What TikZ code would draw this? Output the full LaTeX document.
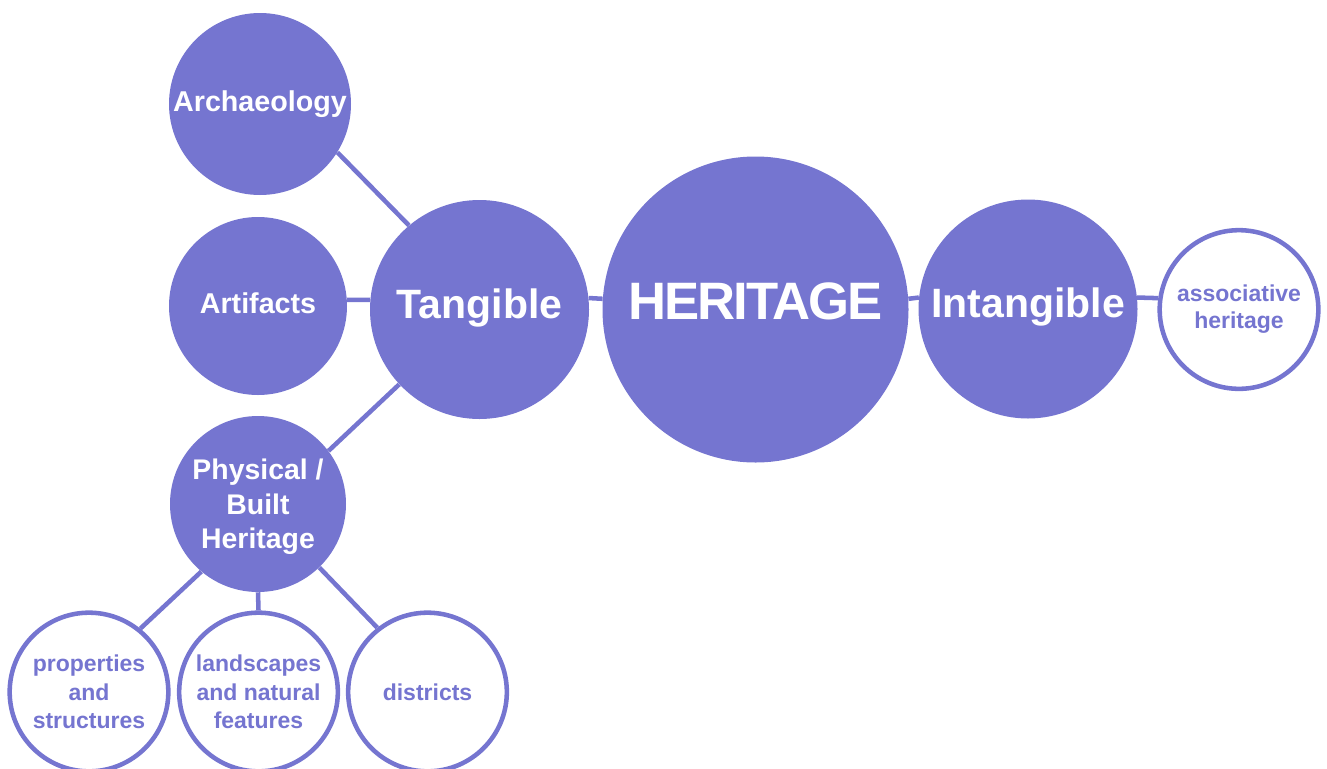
\documentclass[tikz,border=0pt]{standalone}
\usepackage{fontspec}
\setmainfont{Liberation Sans}

\definecolor{lavender}{RGB}{117,117,208}
\newcommand{\fs}[2]{\fontsize{#1}{#2}\selectfont\bfseries}

\tikzset{
	ball/.style={circle, fill=lavender, inner sep=0pt, text=white, align=center},
	ring/.style={circle, draw=lavender, line width=3.4pt, fill=white, inner sep=0pt, text=lavender, align=center},
	link/.style={draw=lavender, line width=3.4pt}
}

\begin{document}
\begin{tikzpicture}[x=0.75pt, y=-0.75pt]
	
	% 1. Khung vẽ
	\useasboundingbox (0,0) rectangle (1327,768);
	
	% 2. Vòng tròn trung tâm và hai nhánh chính
	\node[ball, minimum size=229.5pt, text depth=12pt,
	font=\fs{39.5}{40}\addfontfeatures{LetterSpace=-4}] (her) at (755.5,309.5) {HERITAGE};
	\node[ball, minimum size=164.25pt, text depth=9pt, font=\fs{30.75}{31}] (tang) at (479.5,309.5) {Tangible};
	\node[ball, minimum size=164.25pt, text depth=9pt, font=\fs{30.75}{31}] (intang) at (1028,309) {Intangible};
	\node[ring, minimum size=119pt, font=\fs{17.25}{20.25}] (assoc) at (1239,309.5) {associative\\heritage};
	
	% 3. Các nhánh của Tangible
	\node[ball, minimum size=136.5pt, text depth=5pt, font=\fs{21.5}{26}] (arch) at (260,104) {Archaeology};
	\node[ball, minimum size=133.5pt, text depth=5pt, font=\fs{21.5}{26}] (artif) at (258,306) {Artifacts};
	\node[ball, minimum size=132pt, text depth=0pt, font=\fs{21.3}{25.9}] (phys) at (258,504) {Physical /\\Built\\Heritage};
	
	% 4. Các nhánh của Physical / Built Heritage
	\node[ring, minimum size=119pt, font=\fs{17.25}{21.4}] (prop) at (89,692) {properties\\and\\structures};
	\node[ring, minimum size=119pt, font=\fs{17.25}{21.4}] (land) at (258.5,692) {landscapes\\and natural\\features};
	\node[ring, minimum size=119pt, font=\fs{17.25}{21.4}] (dist) at (427.5,692) {districts};
	
	% 5. Đường nối
	\draw[link] (tang.6) -- (her.176);
	\draw[link] (her.4) -- (intang.174);
	\draw[link] (intang.6) -- (assoc.172);
	\draw[link] (arch.328) -- (tang.130);
	\draw[link] (artif.4) -- (tang.175);
	\draw[link] (tang.223) -- (phys.37);
	\draw[link] (phys.230) -- (prop.51);
	\draw[link] (phys.south) -- (land.north);
	\draw[link] (phys.314) -- (dist.128);
	
\end{tikzpicture}
\end{document}
